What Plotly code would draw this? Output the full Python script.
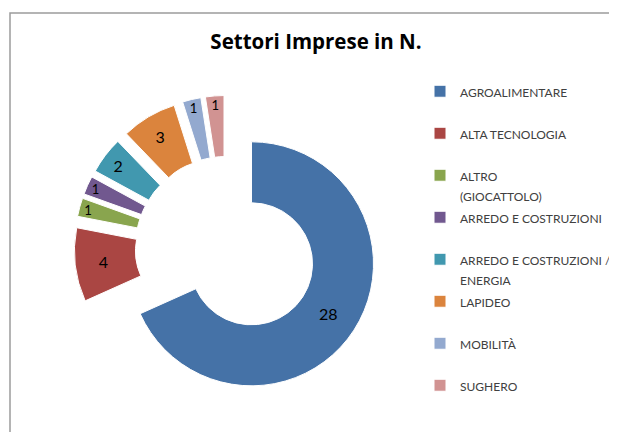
import plotly.graph_objects as go

categories = [
    "AGROALIMENTARE",
    "ALTA TECNOLOGIA",
    "ALTRO (GIOCATTOLO)",
    "ARREDO E COSTRUZIONI",
    "ARREDO E COSTRUZIONI / ENERGIA",
    "LAPIDEO",
    "MOBILITÀ",
    "SUGHERO",
]
# legend text as wrapped in the original (second line where wrapped)
legend_lines = [
    ["AGROALIMENTARE"],
    ["ALTA TECNOLOGIA"],
    ["ALTRO", "(GIOCATTOLO)"],
    ["ARREDO E COSTRUZIONI"],
    ["ARREDO E COSTRUZIONI /", "ENERGIA"],
    ["LAPIDEO"],
    ["MOBILITÀ"],
    ["SUGHERO"],
]
values = [28, 4, 1, 1, 2, 3, 1, 1]
colors = ["#4572A7", "#AA4643", "#89A54E", "#71588F",
          "#4198AF", "#DB843D", "#93A9CF", "#D19392"]

FONT = "Lato, 'Open Sans', sans-serif"

# the page body adds an 8px offset; positions below are in figure pixels
OFF = 8
W, H = 617, 432


def legend_label(lines):
    spans = ['<span style="font-size:12px">%s</span>' % t for t in lines]
    while len(spans) < 2:
        spans.append("\u00a0")
    return "<br>".join(spans)


labels = [legend_label(l) for l in legend_lines]

cx, cy = 226.3 - OFF, 247.5 - OFF
fig = go.Figure(
    go.Pie(
        labels=labels,
        values=values,
        customdata=categories,
        hovertemplate="%{customdata}: %{value}<extra></extra>",
        sort=False,
        direction="clockwise",
        rotation=0,
        hole=0.5,
        pull=0.246,
        marker=dict(colors=colors, line=dict(color="white", width=1)),
        textinfo="value",
        textposition="inside",
        insidetextorientation="horizontal",
        insidetextfont=dict(family=FONT, size=16, color="black"),
        domain=dict(x=[cx / W - 0.2464, cx / W + 0.2464],
                    y=[1 - cy / H - 0.36, 1 - cy / H + 0.36]),
    )
)

fig.update_layout(
    width=W,
    height=H,
    margin=dict(l=0, r=0, t=0, b=0),
    paper_bgcolor="white",
    plot_bgcolor="white",
    font=dict(family=FONT, color="#404040"),
    title=dict(
        text="<b>Settori Imprese in N.</b>",
        x=(316 - OFF) / W,
        xanchor="center",
        y=1 - (42 - OFF) / H,
        yanchor="middle",
        font=dict(family="'Open Sans', sans-serif", size=20.5, color="black"),
    ),
    legend=dict(
        x=(420 - OFF) / W,
        xanchor="left",
        y=1 - (75 - OFF) / H,
        yanchor="top",
        valign="top",
        font=dict(family=FONT, size=15, color="#404040"),
        bgcolor="rgba(0,0,0,0)",
        borderwidth=0,
    ),
    showlegend=True,
    shapes=[
        dict(
            type="rect",
            xref="paper",
            yref="paper",
            x0=(10 - OFF) / W,
            x1=1.05,
            y0=-0.05,
            y1=1 - (13 - OFF) / H,
            line=dict(color="#9c9c9c", width=1.5),
            fillcolor="rgba(0,0,0,0)",
            layer="below",
        )
    ],
)

fig.write_html("out.html")
